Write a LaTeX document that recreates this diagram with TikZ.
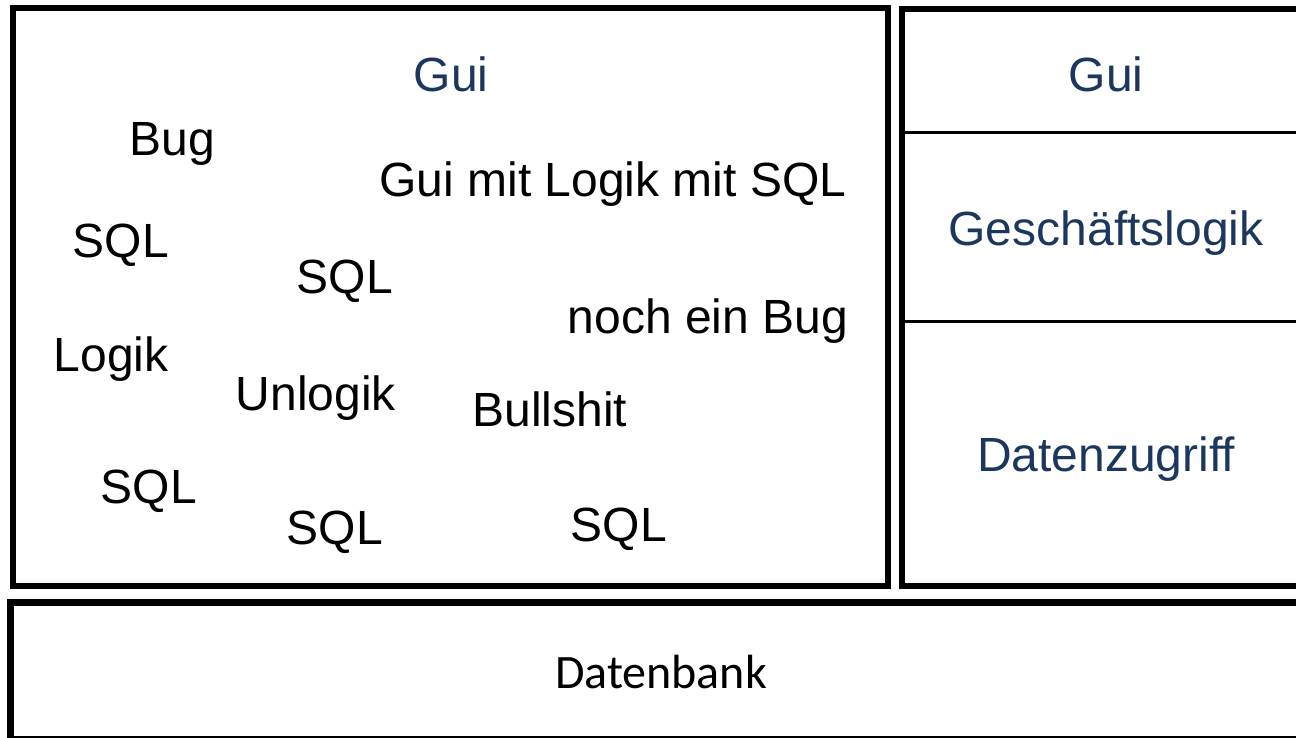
\documentclass[tikz,border=0pt]{standalone}
\usepackage{fontspec}
\setmainfont{Liberation Sans}
\newfontfamily\calibrifont{Carlito}
\definecolor{navy}{RGB}{28,55,94}
\tikzset{
  frame/.style={draw=black, line width=6.5pt},
  divider/.style={draw=black, line width=2.5pt},
  word/.style={anchor=base, inner sep=0pt, font=\fontsize{48}{58}\selectfont},
  layer/.style={word, text=navy},
  dbtext/.style={anchor=base, inner sep=0pt, font=\calibrifont\fontsize{48}{58}\selectfont},
}
\begin{document}
\begin{tikzpicture}[x=1pt, y=-1pt]
  \useasboundingbox (0,0) rectangle (1296,737);
  \clip (0,0) rectangle (1296,737);
  \fill[white] (0,0) rectangle (1296,737);

  % the tangled monolith
  \draw[frame] (13,8) rectangle (888,586);
  \node[layer] (guiL) at (451,91) {Gui};
  \node[word] (bug1) at (172,155) {Bug};
  \node[word] (mix) at (613,196) {Gui mit Logik mit SQL};
  \node[word] (sql1) at (121,257) {SQL};
  \node[word] (sql2) at (345,293) {SQL};
  \node[word] (bug2) at (708,333) {noch ein Bug};
  \node[word] (logik) at (111,371) {Logik};
  \node[word] (unlogik) at (316,410) {Unlogik};
  \node[word] (bs) at (550,426) {Bullshit};
  \node[word] (sql3) at (149,503) {SQL};
  \node[word] (sql4) at (335,544) {SQL};
  \node[word] (sql5) at (619,541) {SQL};

  % the layered stack
  \draw[frame] (902,9) rectangle (1310,586);
  \draw[divider] (902,132.5) -- (1310,132.5);
  \draw[divider] (902,321.5) -- (1310,321.5);
  \node[layer] (guiR) at (1106,91) {Gui};
  \node[layer] (logic) at (1106,245) {Geschäftslogik};
  \node[layer] (data) at (1106,471) {Datenzugriff};

  % database underneath
  \draw[frame] (10.5,602.5) rectangle (1310,739.5);
  \node[dbtext] (db) at (661,688) {Datenbank};
\end{tikzpicture}
\end{document}
